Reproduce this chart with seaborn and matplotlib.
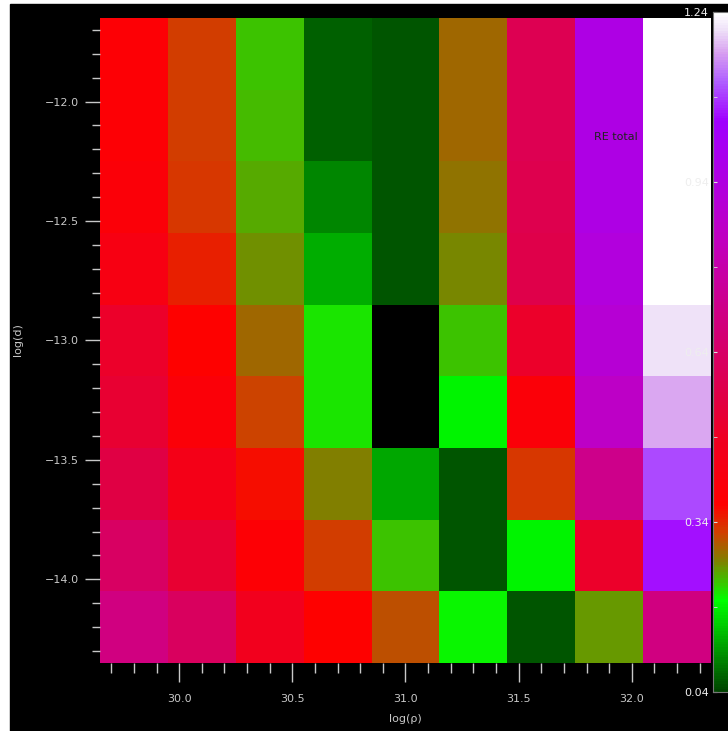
import numpy as np
import pandas as pd
import seaborn as sns
import matplotlib
matplotlib.use('Agg')
import matplotlib.pyplot as plt
from matplotlib.colors import LinearSegmentedColormap
from matplotlib.patches import Rectangle
from matplotlib.ticker import FixedLocator

# grid centres (cells are 0.3 wide in both directions)
log_rho = [29.8, 30.1, 30.4, 30.7, 31.0, 31.3, 31.6, 31.9, 32.2]
log_d = [-11.8, -12.1, -12.4, -12.7, -13.0, -13.3, -13.6, -13.9, -14.2]
step = 0.3

# RE total, one list per log(rho) column, top row (log d = -11.8) first
col_298 = [0.39, 0.39, 0.40, 0.43, 0.50, 0.52, 0.56, 0.63, 0.70]
col_301 = [0.322, 0.325, 0.33, 0.345, 0.37, 0.40, 0.45, 0.52, 0.62]
col_304 = [0.235, 0.24, 0.25, 0.262, 0.29, 0.32, 0.36, 0.39, 0.47]
col_307 = [0.065, 0.065, 0.1, 0.13, 0.215, 0.215, 0.27, 0.325, 0.37]
col_310 = [0.058, 0.055, 0.058, 0.055, 0.0, 0.0, 0.125, 0.235, 0.31]
col_313 = [0.29, 0.29, 0.28, 0.265, 0.235, 0.19, 0.055, 0.055, 0.205]
col_316 = [0.59, 0.59, 0.58, 0.57, 0.50, 0.40, 0.33, 0.19, 0.055]
col_319 = [0.95, 0.95, 0.95, 0.93, 0.90, 0.86, 0.72, 0.50, 0.26]
col_322 = [1.24, 1.24, 1.24, 1.24, 1.21, 1.17, 1.10, 1.06, 0.70]

vmin, vmax = 0.04, 1.24
cbar_ticks = [0.04, 0.34, 0.64, 0.94, 1.24]
cbar_minor = [0.19, 0.49, 0.79, 1.09]
x_ticks = [30.0, 30.5, 31.0, 31.5, 32.0]
y_ticks = [-12.0, -12.5, -13.0, -13.5, -14.0]

df = pd.DataFrame(np.array([col_298, col_301, col_304, col_307, col_310,
                            col_313, col_316, col_319, col_322]).T,
                  index=log_d, columns=log_rho)

anchors = [(0.04, '#004400'), (0.20, '#00ff00'), (0.27, '#808000'),
           (0.32, '#d04000'), (0.37, '#ff0000'), (0.48, '#f00020'),
           (0.56, '#e00045'), (0.70, '#d00080'), (0.84, '#c000c0'),
           (0.94, '#b000e0'), (1.05, '#a000ff'), (1.12, '#b060ff'),
           (1.17, '#d8a0f0'), (1.21, '#eee0f8'), (1.24, '#ffffff')]
cmap = LinearSegmentedColormap.from_list(
    're', [((v - vmin) / (vmax - vmin), c) for v, c in anchors])
cmap.set_under('black')
cmap.set_over('white')

W, H = 728, 731
fig = plt.figure(figsize=(W / 100, H / 100), dpi=100, facecolor='white')
fig.add_artist(Rectangle((10 / W, 0), 1, (H - 4) / H, transform=fig.transFigure,
                         color='black', zorder=-5))

ax = fig.add_axes([100 / W, (H - 663) / H, 611 / W, 645 / H])
cax = fig.add_axes([713 / W, (H - 692) / H, 18 / W, 680 / H])

sns.heatmap(df, ax=ax, cbar_ax=cax, cmap=cmap, vmin=vmin, vmax=vmax,
            xticklabels=False, yticklabels=False)

grey = '#c8c8c8'
x0 = log_rho[0] - step / 2
y0 = log_d[0] + step / 2


def xpos(v):
    return (np.asarray(v) - x0) / step


def ypos(v):
    return (y0 - np.asarray(v)) / step


x_minor = [round(29.7 + 0.1 * i, 1) for i in range(27)]
x_minor = [v for v in x_minor if v not in x_ticks]
y_minor = [round(-11.7 - 0.1 * i, 1) for i in range(27)]
y_minor = [v for v in y_minor if v not in y_ticks]

ax.xaxis.set_major_locator(FixedLocator(xpos(x_ticks)))
ax.xaxis.set_minor_locator(FixedLocator(xpos(x_minor)))
ax.set_xticklabels([f'{v:.1f}' for v in x_ticks])
ax.yaxis.set_major_locator(FixedLocator(ypos(y_ticks)))
ax.yaxis.set_minor_locator(FixedLocator(ypos(y_minor)))
ax.set_yticklabels([f'\u2212{abs(v):.1f}' for v in y_ticks], rotation=0)

ax.tick_params(axis='x', which='major', length=14, width=1, color=grey,
               labelcolor=grey, labelsize=8, pad=8, bottom=True)
ax.tick_params(axis='x', which='minor', length=7, width=1, color=grey, bottom=True)
ax.tick_params(axis='y', which='major', length=11, width=1, color=grey,
               labelcolor=grey, labelsize=8, pad=4, left=True)
ax.tick_params(axis='y', which='minor', length=6, width=1, color=grey, left=True)
ax.set_xlabel('')
ax.set_ylabel('')

# colour bar labels sit over the heatmap, in near-white
cax.yaxis.set_ticks_position('left')
cax.yaxis.set_label_position('left')
cax.set_yticks(cbar_ticks)
cax.set_yticks(cbar_minor, minor=True)
cax.set_yticklabels([f'{v:.2f}' for v in cbar_ticks])
cax.tick_params(which='both', direction='in', length=3, color='#dddddd',
                labelcolor='#eeeeee', labelsize=8, pad=3)
for s in cax.spines.values():
    s.set_visible(True)
    s.set_color('#777777')

fig.text(616 / W, 1 - 137 / H, 'RE total', ha='center', va='center',
         fontsize=8, color='#222222')
fig.text(405 / W, 1 - 719 / H, 'log(\u03c1)', ha='center', va='center',
         fontsize=8, color=grey)
fig.text(18 / W, 1 - 340 / H, 'log(d)', ha='center', va='center',
         fontsize=8, color=grey, rotation=90)

fig.savefig('out.png', dpi=100, facecolor=fig.get_facecolor())
